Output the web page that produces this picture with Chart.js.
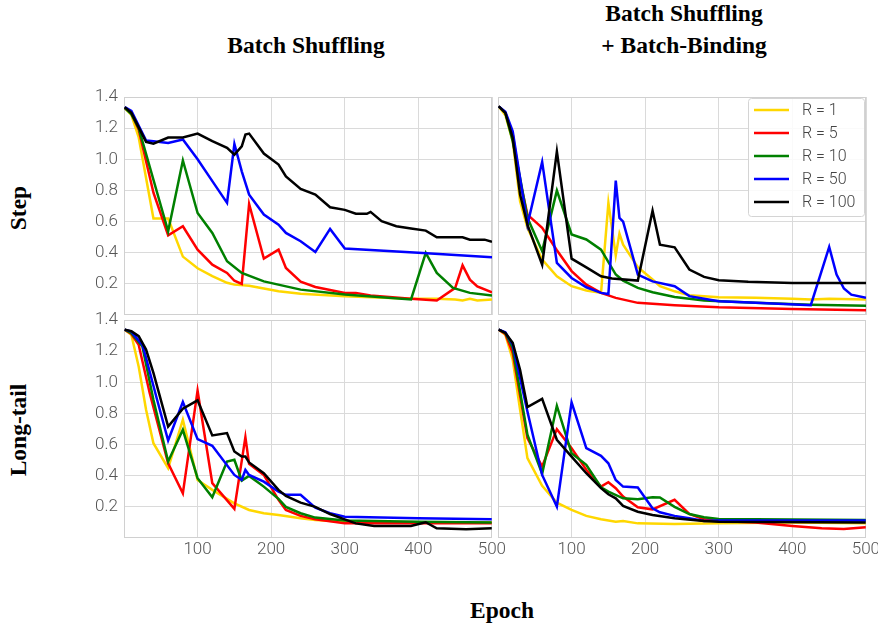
<!DOCTYPE html>
<html>
<head>
<meta charset="utf-8">
<script src="https://cdn.jsdelivr.net/npm/chart.js@4.4.1/dist/chart.umd.min.js"></script>
<style>
  html, body { margin: 0; padding: 0; background: #fff; overflow: hidden; }
  body { width: 878px; height: 624px; position: relative; }
  canvas { position: absolute; }
  .lbl {
    position: absolute;
    font-family: "Liberation Serif", "Times New Roman", serif;
    font-weight: bold;
    font-size: 23.5px;
    line-height: 32px;
    color: #000;
    white-space: nowrap;
    text-align: center;
  }
</style>
</head>
<body>
<div class="lbl" style="left:306px;top:29px;transform:translateX(-50%)">Batch Shuffling</div>
<div class="lbl" style="left:684px;top:-3px;transform:translateX(-50%)">Batch Shuffling<br>+ Batch-Binding</div>
<div class="lbl" style="left:18px;top:208px;transform:translate(-50%,-50%) rotate(-90deg)">Step</div>
<div class="lbl" style="left:18px;top:430px;transform:translate(-50%,-50%) rotate(-90deg)">Long-tail</div>
<div class="lbl" style="left:502px;top:594px;transform:translateX(-50%)">Epoch</div>

<canvas id="tl" width="434" height="258" style="left:74px;top:77px"></canvas>
<canvas id="tr" width="394" height="258" style="left:488px;top:77px"></canvas>
<canvas id="bl" width="434" height="272" style="left:74px;top:300px"></canvas>
<canvas id="br" width="394" height="272" style="left:488px;top:300px"></canvas>

<script>
var R_LABELS = ["R = 1", "R = 5", "R = 10", "R = 50", "R = 100"];
var R_COLORS = ["#ffd700", "#ff0000", "#008000", "#0000ff", "#000000"];
var X_TICKS = [100, 200, 300, 400, 500];
var Y_TICKS = [0.2, 0.4, 0.6, 0.8, 1.0, 1.2, 1.4];

// [epoch, loss]
// Step / Batch Shuffling
var stepBS_R1 = [[1,1.33],[10,1.285],[20,1.14],[30,0.88],[40,0.62],[60,0.62],[80,0.375],[100,0.30],[120,0.25],[140,0.207],[150,0.195],[170,0.188],[190,0.17],[210,0.153],[240,0.136],[300,0.12],[390,0.104],[425,0.104],[450,0.1],[460,0.093],[470,0.104],[480,0.093],[500,0.1]];
var stepBS_R5 = [[1,1.33],[10,1.295],[20,1.19],[40,0.785],[60,0.512],[80,0.57],[100,0.42],[120,0.323],[140,0.27],[150,0.22],[160,0.2],[170,0.713],[190,0.362],[210,0.42],[220,0.302],[240,0.214],[260,0.18],[300,0.142],[315,0.142],[335,0.125],[390,0.104],[425,0.093],[450,0.174],[460,0.319],[470,0.227],[480,0.184],[500,0.145]];
var stepBS_R10 = [[1,1.33],[10,1.29],[20,1.2],[60,0.538],[80,0.992],[100,0.655],[120,0.527],[140,0.345],[160,0.27],[190,0.216],[240,0.163],[300,0.131],[390,0.1],[410,0.399],[425,0.27],[447,0.174],[470,0.142],[500,0.125]];
var stepBS_R50 = [[1,1.335],[10,1.31],[30,1.12],[40,1.116],[60,1.105],[80,1.127],[100,1.0],[120,0.86],[140,0.72],[150,1.098],[160,0.923],[170,0.773],[190,0.645],[210,0.58],[220,0.527],[240,0.474],[260,0.405],[280,0.553],[300,0.427],[400,0.399],[500,0.371]];
var stepBS_R100 = [[1,1.335],[10,1.298],[30,1.112],[40,1.10],[60,1.14],[80,1.14],[100,1.165],[120,1.116],[140,1.073],[150,1.03],[160,1.083],[165,1.159],[170,1.165],[190,1.037],[210,0.966],[220,0.89],[240,0.81],[260,0.774],[280,0.692],[300,0.675],[315,0.65],[330,0.65],[335,0.662],[350,0.602],[370,0.57],[390,0.555],[410,0.542],[425,0.499],[460,0.499],[470,0.484],[490,0.484],[500,0.47]];

// Step / Batch Shuffling + Batch-Binding
var stepBB_R1 = [[1,1.34],[10,1.283],[20,1.116],[30,0.73],[40,0.56],[60,0.356],[80,0.249],[100,0.185],[120,0.157],[140,0.142],[150,0.72],[160,0.383],[165,0.523],[170,0.452],[190,0.307],[210,0.228],[220,0.185],[240,0.152],[260,0.127],[300,0.114],[350,0.11],[400,0.104],[425,0.1],[450,0.104],[500,0.1]];
var stepBB_R5 = [[1,1.34],[10,1.298],[20,1.16],[30,0.86],[40,0.645],[60,0.56],[80,0.416],[100,0.282],[120,0.195],[140,0.142],[160,0.11],[190,0.078],[240,0.063],[300,0.05],[400,0.039],[500,0.03]];
var stepBB_R10 = [[1,1.34],[10,1.298],[20,1.116],[30,0.88],[40,0.624],[60,0.41],[80,0.799],[100,0.517],[120,0.485],[140,0.42],[160,0.26],[170,0.221],[190,0.174],[210,0.146],[240,0.116],[280,0.093],[350,0.078],[425,0.066],[500,0.06]];
var stepBB_R50 = [[1,1.34],[10,1.305],[20,1.18],[40,0.58],[60,0.983],[80,0.335],[100,0.238],[120,0.178],[140,0.142],[150,0.135],[160,0.863],[165,0.623],[170,0.6],[190,0.26],[210,0.216],[240,0.185],[260,0.121],[280,0.104],[300,0.089],[350,0.078],[425,0.063],[450,0.437],[460,0.26],[470,0.17],[480,0.131],[500,0.11]];
var stepBB_R100 = [[1,1.34],[10,1.298],[20,1.137],[30,0.773],[40,0.58],[60,0.323],[80,1.05],[100,0.362],[120,0.306],[140,0.249],[155,0.234],[190,0.221],[210,0.67],[220,0.452],[240,0.435],[260,0.292],[280,0.245],[300,0.223],[340,0.213],[400,0.206],[500,0.206]];

// Long-tail / Batch Shuffling
var tailBS_R1 = [[1,1.338],[10,1.306],[20,1.1],[30,0.824],[40,0.609],[60,0.448],[80,0.76],[100,0.373],[120,0.309],[150,0.223],[170,0.18],[190,0.159],[210,0.148],[240,0.127],[260,0.116],[300,0.105],[400,0.101],[500,0.101]];
var tailBS_R5 = [[1,1.338],[10,1.31],[20,1.24],[35,0.93],[60,0.48],[80,0.287],[100,0.946],[120,0.352],[150,0.187],[165,0.648],[170,0.476],[190,0.405],[210,0.245],[220,0.18],[240,0.142],[260,0.12],[300,0.094],[500,0.094]];
var tailBS_R10 = [[1,1.338],[10,1.315],[25,1.23],[40,0.888],[60,0.491],[80,0.695],[100,0.384],[120,0.262],[140,0.491],[150,0.502],[160,0.369],[170,0.399],[190,0.33],[210,0.251],[220,0.2],[240,0.159],[260,0.131],[300,0.112],[400,0.105],[500,0.099]];
var tailBS_R50 = [[1,1.338],[10,1.325],[25,1.24],[30,1.156],[45,0.888],[60,0.626],[80,0.873],[100,0.635],[120,0.592],[150,0.405],[160,0.373],[165,0.437],[170,0.405],[190,0.362],[210,0.298],[220,0.277],[240,0.277],[260,0.195],[280,0.159],[300,0.137],[400,0.127],[500,0.12]];
var tailBS_R100 = [[1,1.338],[10,1.328],[20,1.296],[30,1.21],[40,1.06],[60,0.716],[80,0.83],[100,0.884],[120,0.659],[140,0.674],[150,0.556],[160,0.523],[165,0.523],[170,0.485],[190,0.416],[210,0.309],[220,0.27],[240,0.227],[260,0.2],[280,0.154],[300,0.12],[315,0.094],[340,0.077],[390,0.077],[410,0.101],[425,0.062],[465,0.056],[500,0.062]];

// Long-tail / Batch Shuffling + Batch-Binding
var tailBB_R1 = [[1,1.338],[10,1.306],[20,1.145],[30,0.824],[40,0.513],[60,0.335],[80,0.227],[100,0.18],[120,0.142],[140,0.12],[160,0.105],[170,0.109],[190,0.094],[240,0.09],[300,0.094],[400,0.099],[500,0.094]];
var tailBB_R5 = [[1,1.338],[10,1.31],[20,1.188],[40,0.641],[60,0.459],[80,0.699],[100,0.577],[120,0.438],[140,0.33],[150,0.358],[160,0.32],[170,0.266],[190,0.197],[210,0.184],[240,0.245],[260,0.154],[280,0.12],[300,0.109],[350,0.099],[400,0.077],[440,0.062],[470,0.058],[500,0.069]];
var tailBB_R10 = [[1,1.338],[10,1.317],[20,1.22],[40,0.663],[60,0.412],[80,0.849],[100,0.545],[120,0.47],[140,0.326],[150,0.298],[170,0.255],[190,0.249],[210,0.262],[220,0.26],[240,0.2],[260,0.154],[280,0.133],[300,0.122],[500,0.116]];
var tailBB_R50 = [[1,1.338],[10,1.322],[20,1.242],[40,0.813],[60,0.405],[80,0.2016],[100,0.871],[120,0.577],[140,0.528],[150,0.48],[160,0.373],[170,0.33],[190,0.324],[210,0.191],[220,0.165],[240,0.142],[260,0.127],[280,0.109],[300,0.112],[500,0.112]];
var tailBB_R100 = [[1,1.338],[10,1.317],[20,1.253],[30,1.081],[40,0.841],[60,0.894],[80,0.631],[100,0.523],[120,0.416],[140,0.32],[150,0.281],[160,0.255],[170,0.206],[190,0.169],[210,0.148],[240,0.127],[280,0.109],[300,0.105],[500,0.099]];

var GRID = "#dadada";
var TICK_COLOR = "#555";
var TICK_FONT = { family: "Roboto", size: 17, weight: 300 };

// box round the plot area, like the reference axes
var framePlugin = {
  id: "frame",
  beforeDatasetsDraw: function(chart) {
    var a = chart.chartArea, ctx = chart.ctx;
    ctx.save();
    ctx.strokeStyle = "#d0d0d0";
    ctx.lineWidth = 1;
    ctx.strokeRect(Math.round(a.left) + 0.5, Math.round(a.top) + 0.5,
      Math.round(a.right - a.left) - 1, Math.round(a.bottom - a.top) - 1);
    ctx.restore();
  }
};

// legend box in the upper right corner
var legendPlugin = {
  id: "cornerLegend",
  afterDraw: function(chart) {
    var a = chart.chartArea, ctx = chart.ctx;
    var ds = chart.data.datasets;
    var w = 116, h = 118;
    var x0 = a.right - w - 2, y0 = a.top + 1;
    ctx.save();
    ctx.fillStyle = "rgba(255,255,255,0.85)";
    ctx.strokeStyle = "#d4d4d4";
    ctx.lineWidth = 1;
    ctx.beginPath();
    ctx.roundRect(x0 + 0.5, y0 + 0.5, w, h, 3);
    ctx.fill();
    ctx.stroke();
    ctx.font = "300 16px Roboto";
    ctx.textBaseline = "middle";
    for (var i = 0; i < ds.length; i++) {
      var y = y0 + 12 + i * 23;
      ctx.strokeStyle = ds[i].borderColor;
      ctx.lineWidth = 2.5;
      ctx.beginPath();
      ctx.moveTo(x0 + 6, y);
      ctx.lineTo(x0 + 41, y);
      ctx.stroke();
      ctx.fillStyle = "#444";
      ctx.fillText(ds[i].label, x0 + 54, y + 1);
    }
    ctx.restore();
  }
};

function makeChart(canvasId, series, showY, showX, withLegend) {
  var datasets = series.map(function(pts, i) {
    return {
      label: R_LABELS[i],
      data: pts.map(function(p) { return { x: p[0], y: p[1] }; }),
      borderColor: R_COLORS[i],
      backgroundColor: R_COLORS[i],
      borderWidth: 2.5,
      pointRadius: 0,
      tension: 0,
      order: series.length - 1 - i
    };
  });
  var plugins = [framePlugin];
  if (withLegend) plugins.push(legendPlugin);

  return new Chart(document.getElementById(canvasId), {
    type: "line",
    data: { datasets: datasets },
    options: {
      responsive: false,
      animation: false,
      events: [],
      layout: {
        padding: { left: showY ? 0 : 10, right: 16, top: 20, bottom: showX ? 0 : 20 }
      },
      plugins: { legend: { display: false }, tooltip: { enabled: false } },
      scales: {
        x: {
          type: "linear",
          min: 0,
          max: 500,
          afterBuildTicks: function(s) {
            s.ticks = X_TICKS.map(function(v) { return { value: v }; });
          },
          afterFit: function(s) { s.height = showX ? 34 : 0; },
          grid: { color: GRID, drawTicks: false },
          border: { display: false },
          ticks: { display: showX, padding: 2, font: TICK_FONT, color: TICK_COLOR }
        },
        y: {
          min: 0,
          max: 1.4,
          afterBuildTicks: function(s) {
            s.ticks = Y_TICKS.map(function(v) { return { value: v }; });
          },
          afterFit: function(s) { s.width = showY ? 50 : 0; },
          grid: { color: GRID, drawTicks: false },
          border: { display: false },
          ticks: {
            display: showY,
            padding: 6,
            font: TICK_FONT,
            color: TICK_COLOR,
            callback: function(v) { return Number(v).toFixed(1); }
          }
        }
      }
    },
    plugins: plugins
  });
}

makeChart("tl", [stepBS_R1, stepBS_R5, stepBS_R10, stepBS_R50, stepBS_R100], true, false, false);
makeChart("tr", [stepBB_R1, stepBB_R5, stepBB_R10, stepBB_R50, stepBB_R100], false, false, true);
makeChart("bl", [tailBS_R1, tailBS_R5, tailBS_R10, tailBS_R50, tailBS_R100], true, true, false);
makeChart("br", [tailBB_R1, tailBB_R5, tailBB_R10, tailBB_R50, tailBB_R100], false, true, false);
</script>
</body>
</html>
